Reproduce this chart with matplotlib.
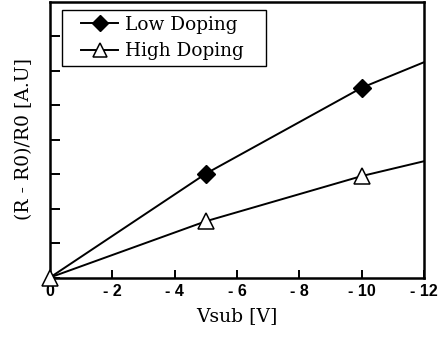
import matplotlib
matplotlib.use("Agg")
import matplotlib.pyplot as plt
from matplotlib.lines import Line2D
from matplotlib.legend_handler import HandlerLine2D

# substrate bias [V] and normalized resistance change for both dopings
vsub = [0, -5, -10, -12]
low_doping = [0, 3.01, 5.50, 6.24]
high_doping = [0, 1.63, 2.94, 3.37]

xticks = [0, -2, -4, -6, -8, -10, -12]
xticklabels = ["0", "- 2", "- 4", "- 6", "- 8", "- 10", "- 12"]
yticks = [0, 1, 2, 3, 4, 5, 6, 7]

serif = "DejaVu Serif"
tickfont = {"family": "Liberation Sans", "weight": "bold", "size": 11.5}

fig = plt.figure(figsize=(4.47, 3.38), dpi=100)
ax = fig.add_axes([50 / 447, 1 - 277.5 / 338, 374 / 447, 276 / 338])

# curves
ax.plot(vsub, low_doping, color="black", lw=1.4, zorder=2)
ax.plot(vsub, high_doping, color="black", lw=1.4, zorder=2)

# measured points (low doping marker at origin hidden under the triangle)
ax.plot(vsub[1:3], low_doping[1:3], ls="none", marker="D", ms=9,
        mfc="black", mec="black", zorder=3)
ax.plot(vsub[:3], high_doping[:3], ls="none", marker="^", ms=11.5,
        mfc="white", mec="black", mew=1.1, zorder=4, clip_on=False)

ax.set_xlim(0, -12)
ax.set_ylim(0, 8)
ax.set_xticks(xticks)
ax.set_xticklabels(xticklabels, fontdict=tickfont)
ax.set_yticks(yticks)
ax.set_yticklabels([])
ax.tick_params(direction="in", length=6, width=1.4, pad=4.5)
ax.tick_params(axis="y", length=7)

for side in ["left", "right", "top", "bottom"]:
    ax.spines[side].set_linewidth(1.8)

ax.set_xlabel("Vsub [V]", family=serif, fontsize=13.5, labelpad=6)
ax.set_ylabel("(R - R0)/R0 [A.U]", family=serif, fontsize=13.5, labelpad=8)

handles = [
    Line2D([], [], color="black", lw=1.4, marker="D", ms=8, mfc="black"),
    Line2D([], [], color="black", lw=1.4, marker="^", ms=10, mfc="white",
           mew=1.1),
]
leg_top = (277.5 - 10) / 276
leg = ax.legend(handles, ["Low Doping", "High Doping"],
                loc="upper left",
                bbox_to_anchor=(12 / 374, leg_top - 0.3, 204 / 374, 0.3),
                mode="expand", borderaxespad=0, fancybox=False,
                framealpha=1, edgecolor="black",
                handlelength=2.74, handletextpad=0.38,
                borderpad=0.3, labelspacing=0.46,
                handler_map={Line2D: HandlerLine2D(xpad=0.74)},
                prop={"family": serif, "size": 13.3})
leg.get_frame().set_linewidth(1.0)

fig.savefig("out.png", dpi=100)
